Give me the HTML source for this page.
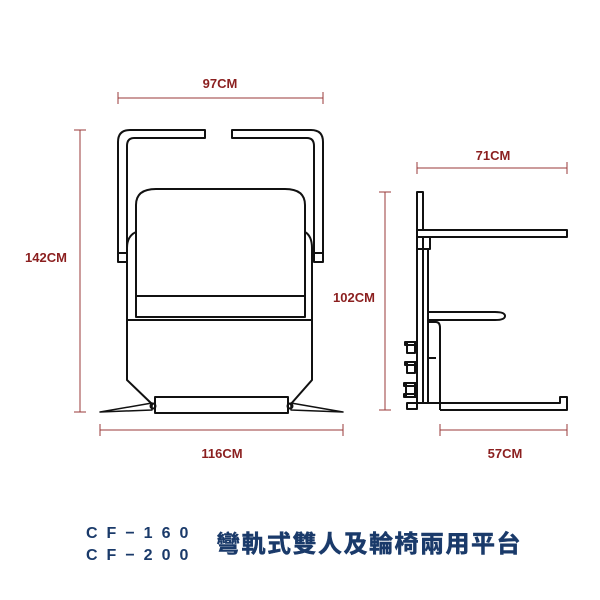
<!DOCTYPE html>
<html><head><meta charset="utf-8"><style>
body{margin:0;background:#fff;width:600px;height:600px;overflow:hidden}
</style></head><body>
<svg width="600" height="600" xmlns="http://www.w3.org/2000/svg" style="position:absolute;left:0;top:0">
<g stroke="#9a3a3a" stroke-width="1" fill="none">
<line x1="118" y1="98" x2="323" y2="98"/><line x1="118" y1="92" x2="118" y2="104"/><line x1="323" y1="92" x2="323" y2="104"/>
<line x1="80" y1="130" x2="80" y2="412"/><line x1="74" y1="130" x2="86" y2="130"/><line x1="74" y1="412" x2="86" y2="412"/>
<line x1="100" y1="430" x2="343" y2="430"/><line x1="100" y1="424" x2="100" y2="436"/><line x1="343" y1="424" x2="343" y2="436"/>
<line x1="385" y1="192" x2="385" y2="410"/><line x1="379" y1="192" x2="391" y2="192"/><line x1="379" y1="410" x2="391" y2="410"/>
<line x1="417" y1="168" x2="567" y2="168"/><line x1="417" y1="162" x2="417" y2="174"/><line x1="567" y1="162" x2="567" y2="174"/>
<line x1="440" y1="430" x2="567" y2="430"/><line x1="440" y1="424" x2="440" y2="436"/><line x1="567" y1="424" x2="567" y2="436"/>
</g>
<g fill="#8b1f1f" font-family="Liberation Sans, sans-serif" font-weight="bold" font-size="13" text-anchor="middle">
<text x="220" y="88">97CM</text>
<text x="46" y="262">142CM</text>
<text x="222" y="458">116CM</text>
<text x="354" y="302">102CM</text>
<text x="493" y="160">71CM</text>
<text x="505" y="458">57CM</text>
</g>
<g stroke="#111" stroke-width="2" fill="none" stroke-linejoin="round">
<path d="M118,262 V142 Q118,130 130,130 H205 V138 H134 Q127,138 127,146 V262 Z"/>
<line x1="118" y1="253" x2="127" y2="253"/>
<path d="M323,262 V142 Q323,130 311,130 H232 V138 H307 Q314,138 314,146 V262 Z"/>
<line x1="314" y1="253" x2="323" y2="253"/>
<path d="M136,232 Q127,236 127,248 V380 L153,405 M305,232 Q312,236 312,248 V380 L290,405"/>
<line x1="127" y1="320" x2="312" y2="320"/>
<path d="M136,317 V205 Q136,189 156,189 H285 Q305,189 305,205 V317 Z" fill="#fff"/>
<line x1="136" y1="296" x2="305" y2="296"/>
<rect x="155" y="397" width="133" height="16" fill="#fff"/>
<path d="M152,403 L100,412 L152,410 Z M291,403 L343,412 L291,410 Z" stroke-width="1.5"/>
<circle cx="153" cy="406" r="2.5"/><circle cx="290" cy="406" r="2.5"/>
<rect x="417" y="192" width="6" height="211"/>
<line x1="428" y1="249" x2="428" y2="403"/>
<rect x="417" y="230" width="150" height="7" fill="#fff"/>
<rect x="417" y="237" width="13" height="12"/>
<path d="M428,312 H495 Q505,312 505,316 Q505,320 495,320 H428"/>
<path d="M428,322 H436 Q440,322 440,328 V410"/>
<line x1="428" y1="358" x2="436" y2="358"/>
<line x1="417" y1="403" x2="440" y2="403"/>
<path d="M440,403 H560 V397 H567 V410 H440"/>
<rect x="407" y="342" width="8" height="11"/><rect x="405" y="342" width="12" height="3"/>
<rect x="407" y="362" width="8" height="11"/><rect x="405" y="362" width="12" height="3"/>
<rect x="406" y="383" width="9" height="14"/><rect x="404" y="383" width="13" height="3"/><rect x="404" y="394" width="13" height="3"/>
<rect x="407" y="403" width="10" height="6"/>
</g>
<g fill="#1a3a6a" font-family="Liberation Sans, sans-serif" font-weight="bold" font-size="16" letter-spacing="9">
<text x="86" y="538">CF−160</text>
<text x="86" y="560">CF−200</text>
</g>
<text x="216" y="552" fill="#1a3a6a" stroke="#1a3a6a" stroke-width="0.5" font-family="Liberation Sans, 'Noto Sans CJK TC', sans-serif" font-weight="bold" font-size="24" letter-spacing="1.5">彎軌式雙人及輪椅兩用平台</text>
</svg>
</body></html>
